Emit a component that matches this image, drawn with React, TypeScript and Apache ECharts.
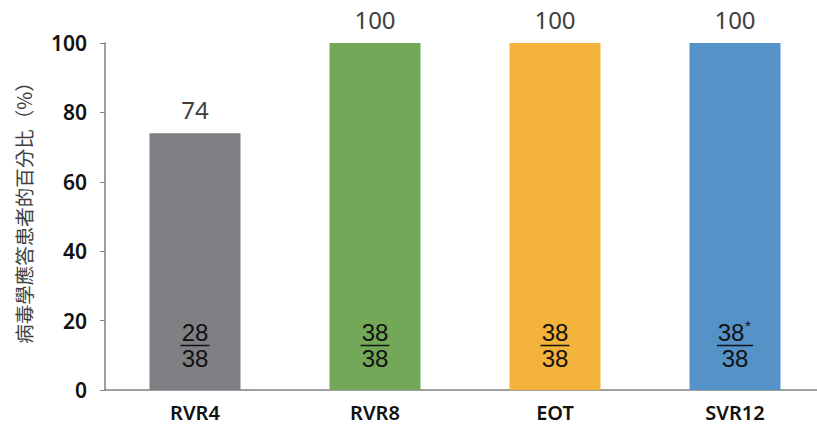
import React, { useEffect, useRef } from "react";
import * as echarts from "echarts";

const categories = ["RVR4", "RVR8", "EOT", "SVR12"];
const values = [74, 100, 100, 100];
const barColors = ["#7F8084", "#72A857", "#F4B33A", "#5592C8"];
const numerators = [28, 38, 38, 38];
const denominators = [38, 38, 38, 38];
const asterisks = [0, 0, 0, 1];
const yTicks = [0, 20, 40, 60, 80, 100];
const yTitle = "病毒學應答患者的百分比（%）";

export default function App() {
  const ref = useRef<HTMLDivElement>(null);
  useEffect(() => {
    if (!ref.current) return;
    const chart = echarts.init(ref.current, null, { renderer: "svg" });
    const fracData = categories.map((_, i) => [i, numerators[i], denominators[i], asterisks[i]]);
    chart.setOption({
      animation: false,
      textStyle: { fontFamily: "Noto Sans, sans-serif" },
      grid: { left: 105, right: 0, top: 43, bottom: 38, containLabel: false },
      graphic: [
        {
          type: "text",
          x: 23,
          y: 208,
          rotation: Math.PI / 2,
          style: {
            text: yTitle,
            align: "center",
            verticalAlign: "middle",
            fontSize: 19.5,
            fill: "#404040",
            fontFamily: "Noto Sans CJK TC, sans-serif",
          },
        },
      ],
      xAxis: {
        type: "category",
        data: categories,
        axisLine: { show: true, lineStyle: { color: "#808080", width: 1.5 } },
        axisTick: { show: false },
        axisLabel: { color: "#111", fontSize: 20, fontWeight: 600, margin: 12, fontFamily: "Noto Sans, sans-serif" },
      },
      yAxis: {
        type: "value",
        min: yTicks[0],
        max: yTicks[yTicks.length - 1],
        interval: 20,
        splitLine: { show: false },
        axisLine: { show: true, lineStyle: { color: "#808080", width: 1.5 } },
        axisTick: { show: true, length: 5, lineStyle: { color: "#808080" } },
        axisLabel: { color: "#111", fontSize: 21, fontWeight: 600, margin: 18, fontFamily: "Noto Sans, sans-serif" },
      },
      series: [
        {
          type: "bar",
          data: values.map((v, i) => ({ value: v, itemStyle: { color: barColors[i] } })),
          barWidth: 91,
          label: {
            show: true,
            position: "top",
            distance: 12,
            color: "#404040",
            fontSize: 24,
            fontFamily: "Noto Sans, sans-serif",
          },
        },
        {
          type: "custom",
          data: fracData,
          z: 10,
          renderItem: (params: any, api: any) => {
            const idx = api.value(0);
            const num = api.value(1);
            const den = api.value(2);
            const star = api.value(3);
            const [x, y0] = api.coord([idx, 0]);
            const lineW = star ? 36 : 29;
            const font = "Liberation Sans, Arial, sans-serif";
            const children: any[] = [
              {
                type: "text",
                style: {
                  text: String(num),
                  x: x - (star ? 4 : 0),
                  y: y0 - 58,
                  align: "center",
                  verticalAlign: "middle",
                  fontSize: 24,
                  fill: "#111",
                  fontFamily: font,
                },
              },
              {
                type: "line",
                shape: { x1: x - lineW / 2, y1: y0 - 44.5, x2: x + lineW / 2, y2: y0 - 44.5 },
                style: { stroke: "#111", lineWidth: 1.5 },
              },
              {
                type: "text",
                style: {
                  text: String(den),
                  x: x,
                  y: y0 - 32,
                  align: "center",
                  verticalAlign: "middle",
                  fontSize: 24,
                  fill: "#111",
                  fontFamily: font,
                },
              },
            ];
            if (star) {
              children.push({
                type: "text",
                style: {
                  text: "*",
                  x: x + 10,
                  y: y0 - 65,
                  align: "left",
                  verticalAlign: "middle",
                  fontSize: 15,
                  fill: "#111",
                  fontFamily: font,
                },
              });
            }
            return { type: "group", children };
          },
        },
      ],
    });
    return () => chart.dispose();
  }, []);
  return (
    <div style={{ position: "absolute", left: 0, top: 0, width: 817, height: 428, overflow: "hidden" }}>
      <div ref={ref} style={{ width: 825, height: 428 }} />
    </div>
  );
}
